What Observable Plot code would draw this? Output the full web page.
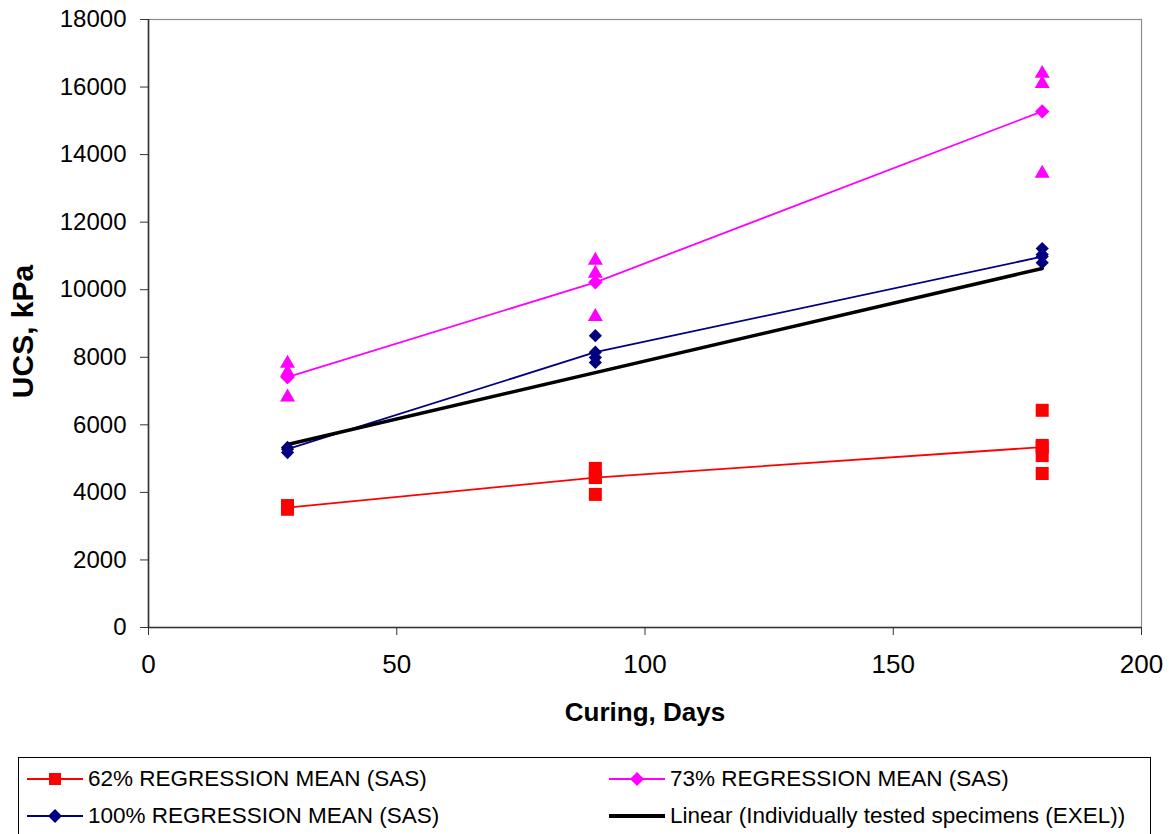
<!DOCTYPE html>
<html><head><meta charset="utf-8">
<script src="https://cdn.jsdelivr.net/npm/d3@7"></script>
<script src="https://cdn.jsdelivr.net/npm/@observablehq/plot@0.6"></script>
<style>
body{margin:0;background:#fff;font-family:"Liberation Sans",Arial,sans-serif;}
#chart{position:absolute;left:0;top:0}
#chart svg{display:block;font-family:"Liberation Sans",Arial,sans-serif}
#legend{position:absolute;left:18px;top:757px;width:1133px;height:100px;border:1.5px solid #000;box-sizing:border-box;background:#fff}
.item{position:absolute;height:30px;display:flex;align-items:center;font-size:22.5px;color:#000;white-space:nowrap}
.item svg{display:block;margin-right:5px}
</style></head><body>
<div id="chart"></div>
<div id="legend"></div>
<script>
// Curing days
const days = [28, 90, 180];
// Regression means (SAS)
const mean62 = [3550, 4440, 5340];
const mean73 = [7410, 10220, 15280];
const mean100 = [5280, 8150, 10980];
// Linear trend (Individually tested specimens (EXEL))
const linearDays = [28, 180];
const linearUCS = [5420, 10630];
// Individual specimens
const spec62Days = [28, 28, 90, 90, 90, 180, 180, 180, 180];
const spec62UCS = [3610, 3500, 4710, 4450, 3940, 6430, 5390, 5090, 4560];
const spec73Days = [28, 28, 28, 90, 90, 90, 180, 180, 180];
const spec73UCS = [7815, 7550, 6820, 10865, 10480, 9205, 16400, 16100, 13440];
const spec100Days = [28, 28, 90, 90, 90, 180, 180, 180];
const spec100UCS = [5330, 5180, 8640, 7990, 7845, 11220, 11040, 10800];
// Ticks
const xTicks = [0, 50, 100, 150, 200];
const yTicks = [0, 2000, 4000, 6000, 8000, 10000, 12000, 14000, 16000, 18000];
// Legend labels
const legendLabels = ["62% REGRESSION MEAN (SAS)", "73% REGRESSION MEAN (SAS)", "100% REGRESSION MEAN (SAS)", "Linear (Individually tested specimens (EXEL))"];

const RED = "#FF0000", MAG = "#FF00FF", NAVY = "#000080";
const pts = (xs, ys) => xs.map((x, i) => ({x, y: ys[i]}));
const m62 = pts(days, mean62), m73 = pts(days, mean73), m100 = pts(days, mean100);
const lin = pts(linearDays, linearUCS);
const s62 = pts(spec62Days, spec62UCS), s73 = pts(spec73Days, spec73UCS), s100 = pts(spec100Days, spec100UCS);

const sqR = 13 / Math.sqrt(Math.PI);
const triR = Math.sqrt(15 * 15 * Math.sqrt(3) / 4 / Math.PI);
const diaR = Math.sqrt(Math.pow(7.2 / 0.62625, 2) / Math.PI);
const diaRs = Math.sqrt(Math.pow(6.6 / 0.62625, 2) / Math.PI);

const plot = Plot.plot({
  width: 1174, height: 740,
  marginLeft: 148, marginRight: 33, marginTop: 19, marginBottom: 113,
  x: {domain: [0, 200]},
  y: {domain: [0, 18000]},
  style: {fontFamily: "'Liberation Sans', Arial, sans-serif", background: "#fff"},
  marks: [
    Plot.frame({stroke: "#8c8c8c", strokeWidth: 1.2}),
    Plot.axisY({ticks: yTicks, tickSize: 8, tickPadding: 14, tickFormat: d => String(d), fontSize: 24, label: null, stroke: "#333", color: "#000"}),
    Plot.axisX({ticks: xTicks, tickSize: 8, tickPadding: 19, tickFormat: d => String(d), fontSize: 26, label: null, stroke: "#333", color: "#000"}),
    Plot.ruleX([0], {stroke: "#333", strokeWidth: 1.6}),
    Plot.ruleY([0], {stroke: "#333", strokeWidth: 1.6}),
    Plot.line(m62, {x: "x", y: "y", stroke: RED, strokeWidth: 1.8}),
    Plot.line(m73, {x: "x", y: "y", stroke: MAG, strokeWidth: 1.8}),
    Plot.line(m100, {x: "x", y: "y", stroke: NAVY, strokeWidth: 1.8}),
    Plot.line(lin, {x: "x", y: "y", stroke: "#000", strokeWidth: 3.5}),
    Plot.dot(s62, {x: "x", y: "y", symbol: "square", r: sqR, fill: RED, stroke: "none"}),
    Plot.dot(s73, {x: "x", y: "y", symbol: "triangle", r: triR, fill: MAG, stroke: "none"}),
    Plot.dot(s100, {x: "x", y: "y", symbol: "diamond2", r: diaRs, fill: NAVY, stroke: "none"}),
    Plot.dot(m62, {x: "x", y: "y", symbol: "square", r: sqR, fill: RED, stroke: "none"}),
    Plot.dot(m73, {x: "x", y: "y", symbol: "diamond2", r: diaR, fill: MAG, stroke: "none"}),
    Plot.dot(m100, {x: "x", y: "y", symbol: "diamond2", r: diaRs, fill: NAVY, stroke: "none"}),
    Plot.text(["Curing, Days"], {frameAnchor: "bottom", dy: 85, lineAnchor: "middle", textAnchor: "middle", fontWeight: "bold", fontSize: 26, fill: "#000"}),
    Plot.text(["UCS, kPa"], {frameAnchor: "left", dx: -125, dy: 8, rotate: -90, textAnchor: "middle", lineAnchor: "middle", fontWeight: "bold", fontSize: 30, fill: "#000"})
  ]
});
document.getElementById("chart").appendChild(plot);

// Legend
const legend = document.getElementById("legend");
const items = [
  {label: legendLabels[0], color: RED, marker: "square", left: 8, top: 6},
  {label: legendLabels[1], color: MAG, marker: "diamond", left: 590, top: 6},
  {label: legendLabels[2], color: NAVY, marker: "diamond", left: 8, top: 43},
  {label: legendLabels[3], color: "#000", marker: null, left: 590, top: 43}
];
items.forEach(it => {
  const div = document.createElement("div");
  div.className = "item";
  div.style.left = it.left + "px";
  div.style.top = it.top + "px";
  const w = 56, h = 30;
  let s = `<svg width="${w}" height="${h}">`;
  if (it.marker) {
    s += `<line x1="0" x2="${w}" y1="15" y2="15" stroke="${it.color}" stroke-width="2"/>`;
    if (it.marker === "square") s += `<rect x="${w/2-6}" y="9" width="12" height="12" fill="${it.color}"/>`;
    else s += `<path d="M${w/2},8 L${w/2+7},15 L${w/2},22 L${w/2-7},15Z" fill="${it.color}"/>`;
  } else {
    s += `<line x1="0" x2="${w}" y1="15" y2="15" stroke="#000" stroke-width="4"/>`;
  }
  s += `</svg>`;
  div.innerHTML = s + `<span>${it.label}</span>`;
  legend.appendChild(div);
});
</script>
</body></html>
